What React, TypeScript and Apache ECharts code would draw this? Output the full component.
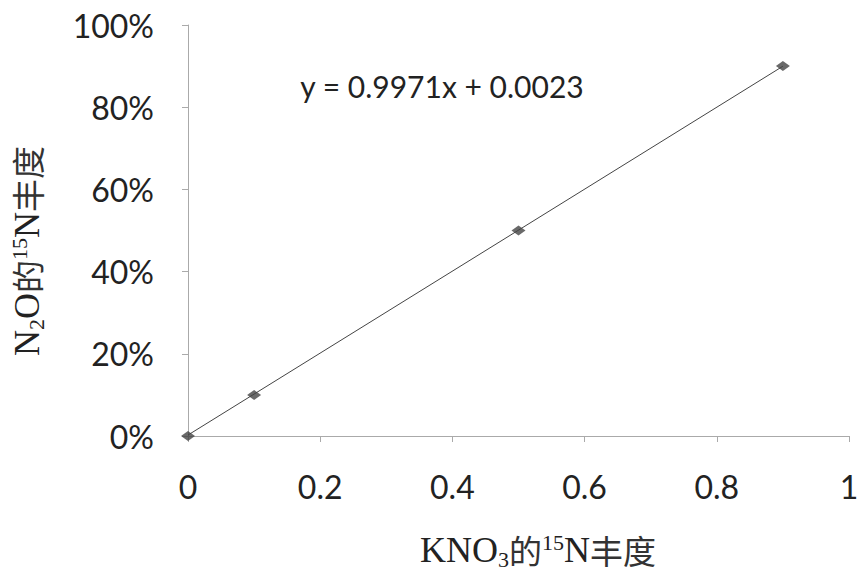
import React, { useEffect, useRef } from "react";
import * as echarts from "echarts";

const xValues = [0, 0.1, 0.5, 0.9];
const yValues = [0, 0.1, 0.5, 0.9];
const slope = 0.9971;
const intercept = 0.0023;
const xTicks = [0, 0.2, 0.4, 0.6, 0.8, 1];
const equationText = "y = 0.9971x + 0.0023";

export default function App() {
  const ref = useRef<HTMLDivElement>(null);
  useEffect(() => {
    const chart = echarts.init(ref.current!, null, { renderer: "svg" });
    const pts = xValues.map((x, i) => [x, yValues[i]]);
    const xmin = Math.min(...xValues);
    const xmax = Math.max(...xValues);
    const trend = [
      [xmin, slope * xmin + intercept],
      [xmax, slope * xmax + intercept],
    ];
    const tickFont = "Lato, 'Open Sans', sans-serif";
    const serif = "'Liberation Serif', 'Noto Sans CJK SC', serif";
    const rich = {
      a: { fontSize: 36, fontFamily: serif, fill: "#222" },
      sub: { fontSize: 22, fontFamily: serif, fill: "#222", padding: [18, 0, 0, 0] },
      sup: { fontSize: 22, fontFamily: serif, fill: "#222", padding: [0, 0, 16, 0] },
      c: { fontSize: 33, fontFamily: "'Noto Sans CJK SC', sans-serif", fill: "#333" },
    };
    chart.setOption({
      animation: false,
      backgroundColor: "#fff",
      grid: { left: 188, right: 15, top: 25, bottom: 142 },
      xAxis: {
        type: "value",
        min: 0,
        max: 1,
        interval: 0.2,
        splitLine: { show: false },
        axisLine: { show: true, lineStyle: { color: "#aaa", width: 1 } },
        axisTick: { show: true, length: 6, lineStyle: { color: "#aaa" } },
        axisLabel: {
          margin: 34,
          color: "#222",
          fontSize: 32,
          fontFamily: tickFont,
          formatter: (v: number) => {
            const t = xTicks.find((k) => Math.abs(k - v) < 1e-9);
            return t === undefined ? "" : String(t);
          },
        },
      },
      yAxis: {
        type: "value",
        min: 0,
        max: 1,
        interval: 0.2,
        splitLine: { show: false },
        axisLine: { show: true, lineStyle: { color: "#aaa", width: 1 } },
        axisTick: { show: true, length: 6, lineStyle: { color: "#aaa" } },
        axisLabel: {
          margin: 34,
          color: "#222",
          fontSize: 32,
          fontFamily: tickFont,
          formatter: (v: number) => Math.round(v * 100) + "%",
        },
      },
      graphic: [
        {
          type: "text",
          x: 442,
          y: 86,
          style: {
            text: equationText,
            fontSize: 30,
            fontFamily: tickFont,
            fill: "#222",
            align: "center",
            verticalAlign: "middle",
          },
        },
        {
          type: "text",
          x: 538,
          y: 550,
          style: {
            text: "{a|KNO}{sub|3}{c|的}{sup|15}{a|N}{c|丰度}",
            align: "center",
            verticalAlign: "middle",
            fill: "#222",
            rich,
          },
        },
        {
          type: "text",
          x: 27,
          y: 251,
          rotation: Math.PI / 2,
          style: {
            text: "{a|N}{sub|2}{a|O}{c|的}{sup|15}{a|N}{c|丰度}",
            align: "center",
            verticalAlign: "middle",
            fill: "#222",
            rich,
          },
        },
      ],
      series: [
        {
          type: "line",
          data: trend,
          showSymbol: false,
          symbol: "none",
          lineStyle: { color: "#444", width: 1 },
          silent: true,
          z: 2,
        },
        {
          type: "scatter",
          data: pts,
          symbol: "diamond",
          symbolSize: [14, 10],
          itemStyle: { color: "#444" },
          z: 3,
        },
      ],
    });
    return () => chart.dispose();
  }, []);
  return (
    <div
      ref={ref}
      style={{ position: "fixed", left: 0, top: 0, width: 864, height: 578 }}
    />
  );
}
